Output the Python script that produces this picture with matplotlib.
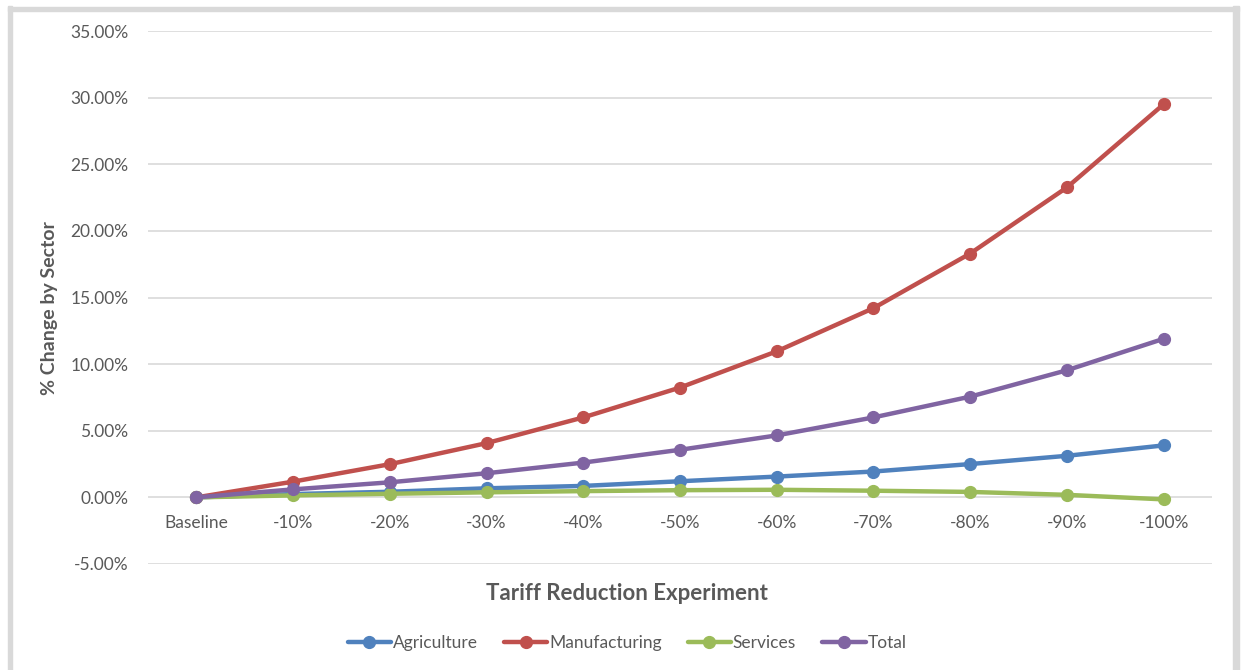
import matplotlib.pyplot as plt
from matplotlib.patches import Rectangle
from matplotlib.ticker import FuncFormatter

plt.rcParams["font.family"] = ["Lato", "DejaVu Sans"]

# Tariff reduction scenarios and % change by sector
experiments = ["Baseline", "-10%", "-20%", "-30%", "-40%", "-50%",
               "-60%", "-70%", "-80%", "-90%", "-100%"]
agriculture = [0.0, 0.25, 0.42, 0.68, 0.86, 1.21, 1.56, 1.94, 2.50, 3.12, 3.90]
manufacturing = [0.0, 1.18, 2.49, 4.07, 6.00, 8.24, 10.96, 14.20, 18.30, 23.26, 29.50]
services = [0.0, 0.15, 0.27, 0.38, 0.47, 0.54, 0.57, 0.50, 0.41, 0.19, -0.15]
total = [0.0, 0.60, 1.13, 1.81, 2.61, 3.57, 4.65, 6.00, 7.56, 9.54, 11.90]

series = [
    ("Agriculture", agriculture, "#4F81BD"),
    ("Manufacturing", manufacturing, "#C0504D"),
    ("Services", services, "#9BBB59"),
    ("Total", total, "#8064A2"),
]

fig = plt.figure(figsize=(12.42, 6.7), dpi=100)
fig.patch.set_facecolor("white")

# light grey frame around the chart area
W, H = 1242, 670
border = "#D9D9D9"
fig.patches.append(Rectangle((8 / W, 0), 4 / W, 1 - 6 / H, transform=fig.transFigure,
                             color=border, zorder=0))
fig.patches.append(Rectangle((1233 / W, 0), 6 / W, 1 - 6 / H, transform=fig.transFigure,
                             color=border, zorder=0))
fig.patches.append(Rectangle((8 / W, 1 - 11 / H), 1231 / W, 4 / H, transform=fig.transFigure,
                             color=border, zorder=0))

ax = fig.add_axes([148 / W, 1 - 564 / H, (1212 - 148) / W, (564 - 31) / H])

x = list(range(len(experiments)))
for name, vals, color in series:
    ax.plot(x, vals, color=color, lw=3.2, marker="o", markersize=8.5,
            label=name, solid_capstyle="round", zorder=3)

ax.set_xlim(-0.5, len(experiments) - 0.5)
ax.set_ylim(-5, 35)
ax.set_yticks(range(-5, 36, 5))
ax.yaxis.set_major_formatter(FuncFormatter(lambda v, p: f"{v:.2f}%"))
ax.set_xticks(x)
ax.set_xticklabels(experiments)

ax.grid(axis="y", color="#D9D9D9", lw=1.2)
ax.set_axisbelow(True)
for s in ax.spines.values():
    s.set_visible(False)
# category labels sit just under the zero line
ax.spines["bottom"].set_position(("data", 0))
ax.tick_params(axis="both", length=0, colors="#595959", labelsize=12.5)
ax.tick_params(axis="y", pad=14)
ax.tick_params(axis="x", pad=13)

fig.text(50 / W, 1 - 308 / H, "% Change by Sector", rotation=90, ha="center", va="center",
         fontsize=14, fontweight="bold", color="#595959")
fig.text(627 / W, 1 - 593 / H, "Tariff Reduction Experiment", ha="center", va="center",
         fontsize=16, fontweight="bold", color="#595959")

leg = fig.legend(loc="center", bbox_to_anchor=(627 / W, 1 - 643 / H), ncol=4, frameon=False,
                 handlelength=2.5, handletextpad=0.1, columnspacing=1.5, fontsize=12.5)
for t in leg.get_texts():
    t.set_color("#595959")

fig.savefig("out.png", dpi=100)
